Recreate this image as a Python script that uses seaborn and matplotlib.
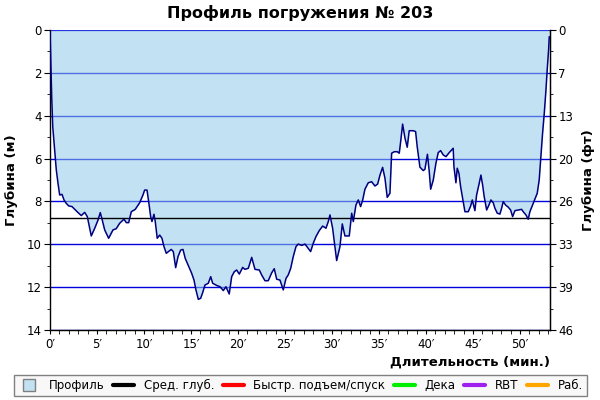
import seaborn as sns
import pandas as pd
import matplotlib
matplotlib.use("Agg")
import matplotlib.pyplot as plt
from matplotlib.lines import Line2D
from matplotlib.ticker import MultipleLocator

# профиль погружения (минуты, метры)
minutes = [0.0, 0.11, 0.18, 0.29, 0.5, 0.67, 0.85, 1.03, 1.28, 1.49, 1.73, 1.99, 2.34, 2.63,
           2.98, 3.33, 3.69, 3.97, 4.39, 4.76, 5.11, 5.35, 5.56, 5.82, 6.24, 6.70, 7.05, 7.41,
           7.87, 8.12, 8.37, 8.65, 9.07, 9.54, 9.89, 10.07, 10.32, 10.5, 10.71, 10.85, 11.06,
           11.2, 11.41, 11.67, 11.91, 12.13, 12.37, 12.9, 13.12, 13.37, 13.62, 13.9, 14.15,
           14.39, 14.68, 15.07, 15.32, 15.53, 15.78, 16.03, 16.24, 16.49, 16.84, 17.1, 17.31,
           17.73, 18.09, 18.44, 18.72, 19.07, 19.33, 19.61, 19.86, 20.14, 20.5, 20.74, 21.1,
           21.46, 21.81, 22.27, 22.52, 22.87, 23.22, 23.59, 23.86, 24.12, 24.47, 24.82, 25.11,
           25.35, 25.61, 25.88, 26.17, 26.41, 26.78, 27.13, 27.48, 27.73, 28.01, 28.3, 28.65,
           29.01, 29.36, 29.61, 29.79, 30.07, 30.32, 30.5, 30.85, 31.1, 31.38, 31.84, 32.1,
           32.27, 32.55, 32.8, 33.05, 33.27, 33.51, 33.86, 34.22, 34.57, 34.86, 35.11, 35.39,
           35.64, 35.88, 36.17, 36.35, 36.63, 36.95, 37.16, 37.31, 37.52, 37.77, 38.01, 38.22,
           38.65, 38.9, 39.07, 39.36, 39.71, 39.89, 40.16, 40.35, 40.5, 40.78, 41.06, 41.31,
           41.56, 41.84, 42.13, 42.48, 42.9, 42.98, 43.19, 43.33, 43.51, 43.69, 43.97, 44.15,
           44.5, 44.76, 44.93, 45.11, 45.21, 45.39, 45.67, 45.85, 46.03, 46.2, 46.46, 46.7,
           46.91, 47.16, 47.34, 47.59, 47.87, 48.05, 48.22, 48.48, 48.76, 49.01, 49.22, 49.47,
           49.82, 50.18, 50.35, 50.64, 50.88, 51.06, 51.41, 51.84, 52.05, 52.23, 52.41, 52.59,
           52.77, 52.9, 53.05, 53.12]
depth_m = [0.0, 1.87, 3.1, 4.5, 5.6, 6.53, 7.15, 7.7, 7.67, 7.93, 8.09, 8.21, 8.24, 8.37,
           8.52, 8.66, 8.51, 8.71, 9.61, 9.25, 8.87, 8.52, 8.87, 9.33, 9.72, 9.33, 9.27, 9.02,
           8.83, 8.99, 8.99, 8.48, 8.37, 8.06, 7.7, 7.47, 7.47, 8.01, 8.71, 8.94, 8.6,
           8.94, 9.72, 9.57, 9.72, 10.11, 10.42, 10.24, 10.34, 11.09, 10.58, 10.27, 10.24,
           10.66, 10.95, 11.35, 11.67, 12.13, 12.57, 12.52, 12.26, 11.9, 11.82, 11.51, 11.82,
           11.92, 11.98, 12.16, 11.98, 12.32, 11.51, 11.28, 11.2, 11.39, 11.08, 11.17, 11.12,
           10.61, 11.17, 11.2, 11.43, 11.7, 11.7, 11.33, 11.14, 11.63, 11.67, 12.13, 11.59,
           11.43, 11.12, 10.58, 10.11, 9.99, 10.05, 9.99, 10.19, 10.34, 9.95, 9.64, 9.36,
           9.15, 9.25, 8.94, 8.63, 9.25, 10.11, 10.76, 10.11, 9.05, 9.61, 9.61, 8.55,
           8.94, 8.17, 7.93, 8.24, 7.93, 7.43, 7.13, 7.08, 7.28, 7.19, 6.77, 6.41,
           6.92, 7.81, 7.62, 5.75, 5.68, 5.68, 5.75, 5.21, 4.39, 5.05, 5.47, 4.7,
           4.7, 4.74, 5.44, 6.4, 6.56, 6.5, 5.8, 6.6, 7.43, 7.0, 6.22, 5.72,
           5.63, 5.83, 5.91, 5.72, 5.52, 6.38, 7.13, 6.45, 6.69, 7.31, 8.01, 8.48,
           8.48, 8.21, 7.93, 8.24, 8.43, 7.7, 7.15, 6.77, 7.23, 7.78, 8.4, 8.17,
           7.93, 8.06, 8.32, 8.55, 8.59, 8.32, 8.01, 8.17, 8.27, 8.4, 8.71, 8.43,
           8.4, 8.37, 8.48, 8.63, 8.83, 8.48, 8.09, 7.62, 7.0, 5.91, 4.82, 3.89,
           2.8, 1.87, 0.93, 0.31]
mean_depth = 8.75

depth_ticks = [0, 2, 4, 6, 8, 10, 12, 14]
feet_labels = ["0", "7", "13", "20", "26", "33", "39", "46"]
minute_ticks = [0, 5, 10, 15, 20, 25, 30, 35, 40, 45, 50]

legend_labels = ["Профиль", "Сред. глуб.", "Быстр. подъем/спуск", "Дека", "RBT", "Раб."]
legend_colors = ["#c2e2f2", "#000000", "#ff0000", "#00ee00", "#a020f0", "#ffa500"]

df = pd.DataFrame({"t": minutes, "d": depth_m})

sns.set_style("white", {"text.color": "black", "axes.labelcolor": "black",
                        "xtick.color": "black", "ytick.color": "black"})
plt.rcParams["font.family"] = ["DejaVu Sans"]

fig = plt.figure(figsize=(6, 4), dpi=100)
ax = fig.add_axes([50 / 600, 70 / 400, 500 / 600, 300 / 400])

for y in depth_ticks:
    ax.axhline(y, color="#0000dd", lw=1, zorder=1)

ax.fill_between(df["t"], 0, df["d"], color="#90cae8", alpha=0.55, lw=0, zorder=2)
ax.axhline(mean_depth, color="black", lw=1, zorder=3)
sns.lineplot(data=df, x="t", y="d", ax=ax, color="#000080", lw=1.1, zorder=4,
             sort=False, estimator=None)

ax.set_xlim(0, 53.2)
ax.set_ylim(14, 0)
ax.set_yticks(depth_ticks)
ax.yaxis.set_minor_locator(MultipleLocator(1))
ax.set_xticks(minute_ticks)
ax.set_xticklabels([f"{m}′" for m in minute_ticks])
ax.xaxis.set_minor_locator(MultipleLocator(1))
ax.tick_params(axis="both", which="both", direction="out", labelsize=8.5, colors="black",
               left=True, bottom=True)
ax.tick_params(axis="y", which="major", length=4, pad=2)
ax.tick_params(axis="y", which="minor", length=2)
ax.tick_params(axis="x", which="both", length=3, pad=3)

for s in ["left", "bottom", "right"]:
    ax.spines[s].set_visible(True)
    ax.spines[s].set_color("black")
    ax.spines[s].set_linewidth(1)
ax.spines["top"].set_visible(False)

ax.set_xlabel("Длительность (мин.)", loc="right", fontsize=9.5, fontweight="bold", labelpad=3)
ax.set_ylabel("Глубина (м)", fontsize=9.5, fontweight="bold", labelpad=6)

ax2 = ax.twinx()
ax2.set_ylim(14, 0)
ax2.set_yticks(depth_ticks)
ax2.set_yticklabels(feet_labels)
ax2.yaxis.set_minor_locator(MultipleLocator(1))
ax2.tick_params(axis="y", which="both", direction="out", labelsize=8.5, right=True,
                colors="black")
ax2.tick_params(axis="y", which="major", length=4, pad=2)
ax2.tick_params(axis="y", which="minor", length=2)
for s in ["left", "bottom", "top"]:
    ax2.spines[s].set_visible(False)
ax2.spines["right"].set_color("black")
ax2.set_ylabel("Глубина (фт)", fontsize=9.5, fontweight="bold", rotation=90, labelpad=6)

fig.suptitle("Профиль погружения № 203", fontsize=11.5, fontweight="bold", y=0.988,
             color="black")

handles = [Line2D([], [], marker="s", ls="", markersize=9, markerfacecolor=legend_colors[0],
                  markeredgecolor="#808080")]
for c in legend_colors[1:]:
    handles.append(Line2D([], [], color=c, lw=3))
leg = fig.legend(handles, legend_labels, ncol=6, mode="expand", fontsize=8.5,
                 bbox_to_anchor=(14 / 600, 4 / 400, 573 / 600, 26 / 400), loc="lower left",
                 fancybox=False, edgecolor="#808080", facecolor="#f8f8f8", framealpha=1,
                 handlelength=1.8, borderaxespad=0, borderpad=0.35, columnspacing=1.5)
leg.get_frame().set_linewidth(1)

fig.savefig("out.png", dpi=100)
